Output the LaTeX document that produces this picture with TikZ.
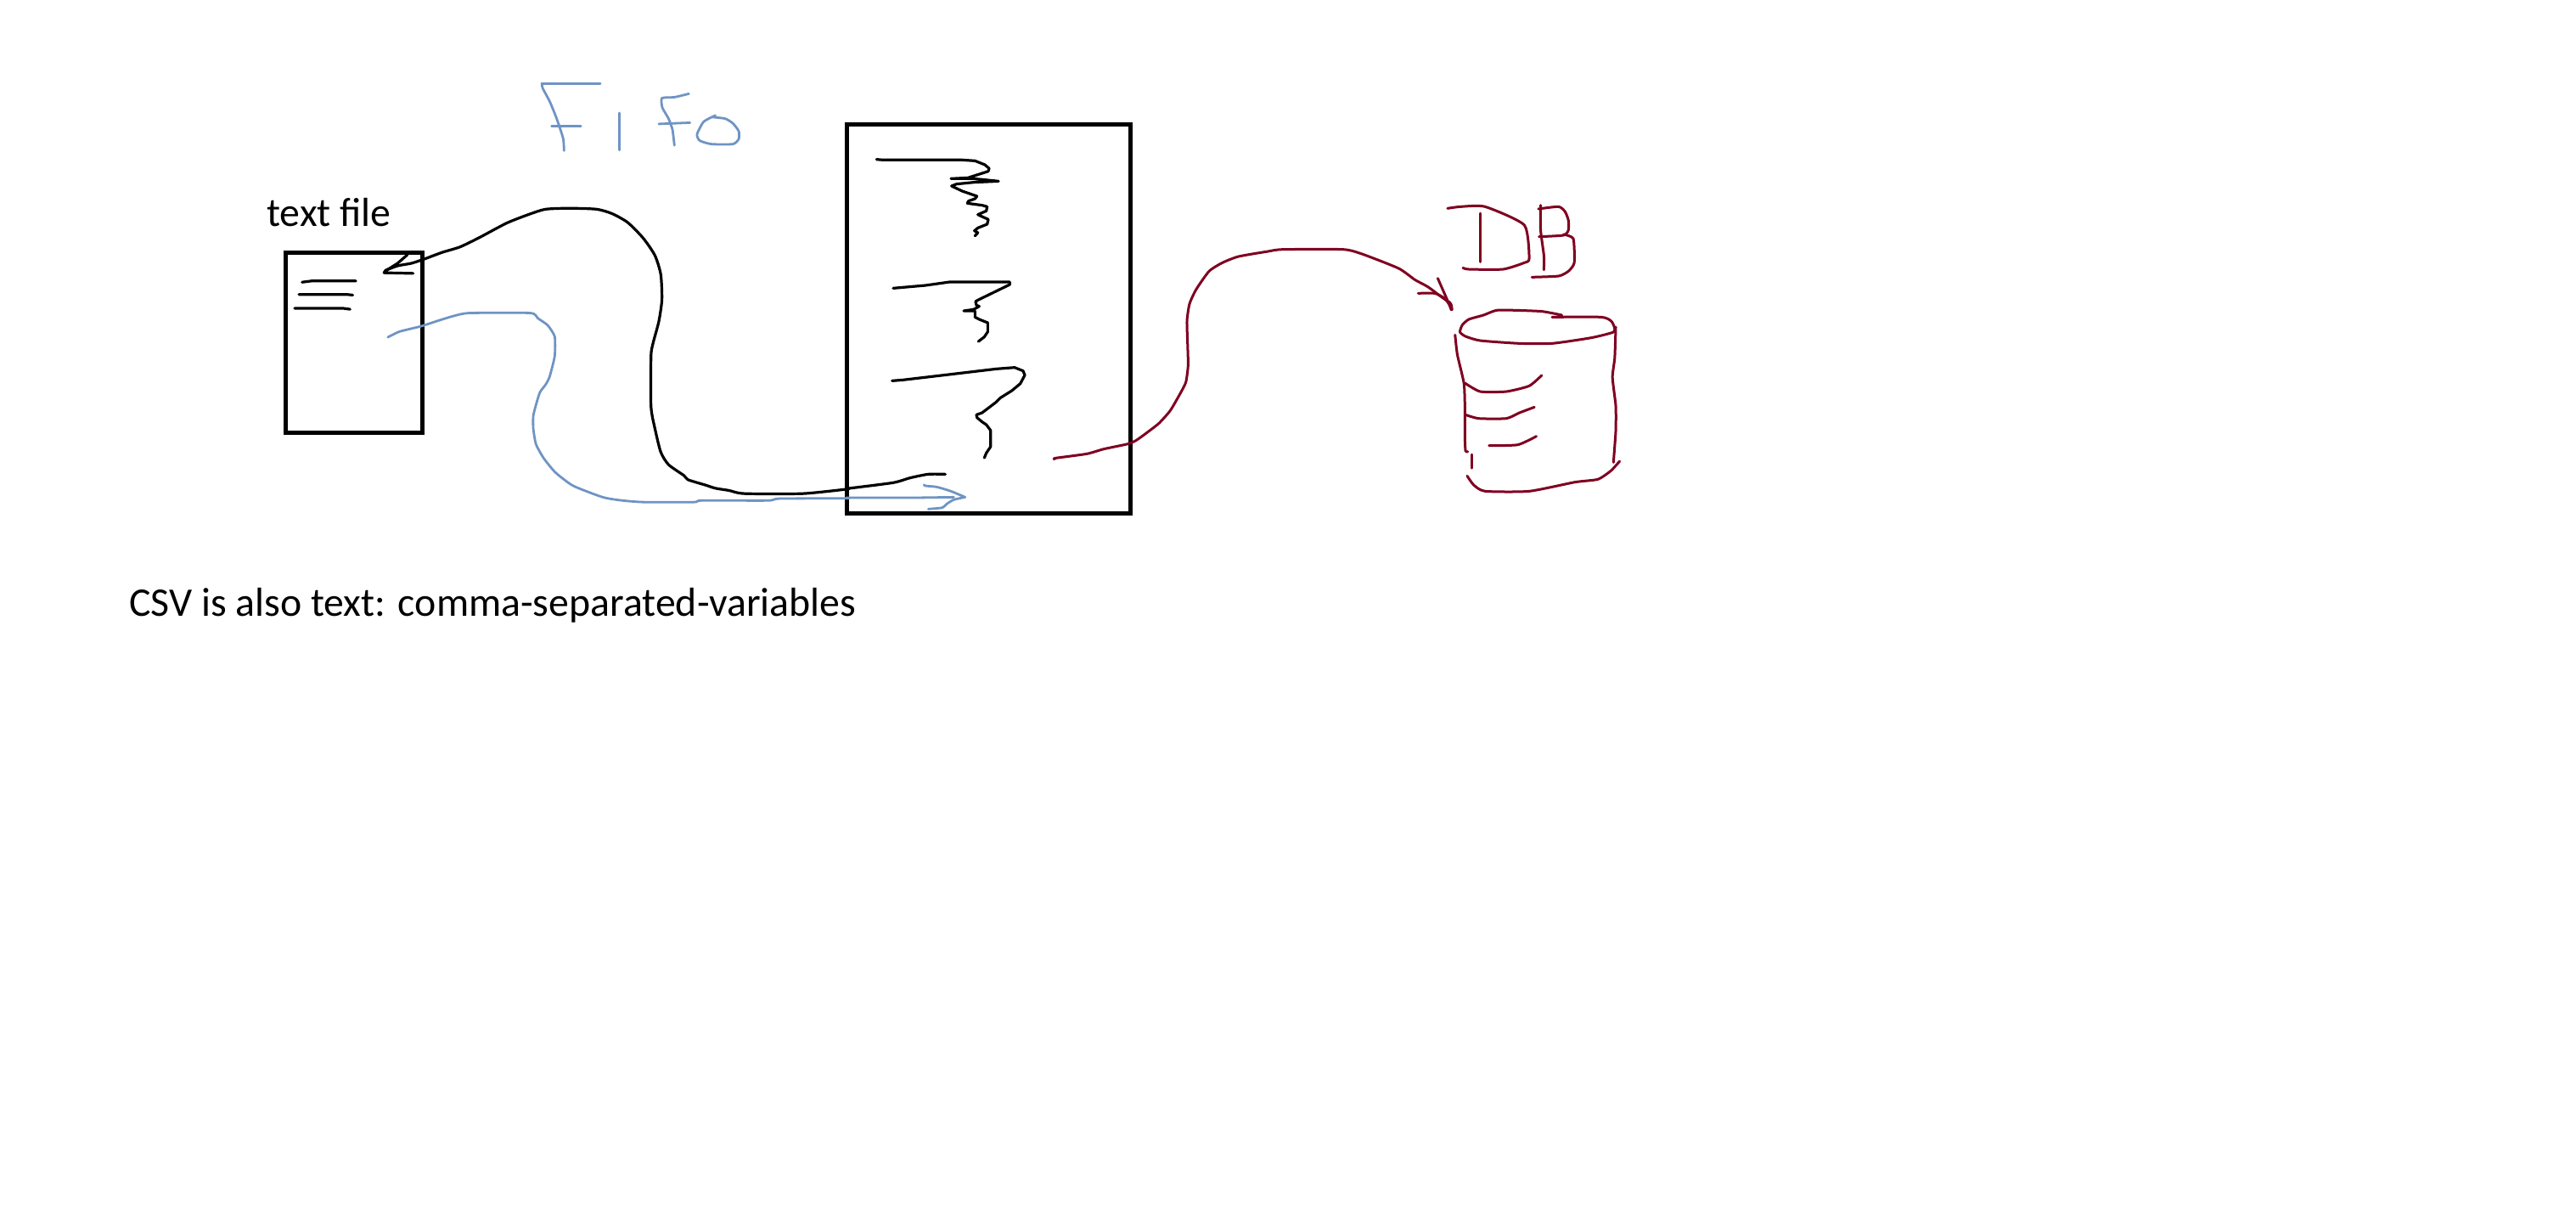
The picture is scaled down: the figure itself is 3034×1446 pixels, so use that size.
\documentclass[tikz,border=0pt]{standalone}
\usepackage{fontspec}
\setmainfont{Carlito}
\definecolor{inkblue}{HTML}{6F94C4}
\definecolor{inkred}{HTML}{7F0020}
\tikzset{
 inkblack/.style={draw=black,line width=1.6pt,line cap=round,line join=round},
 inkcurve/.style={inkblack,smooth,tension=.4},
 inkb/.style={draw=inkblue,line width=1.4pt,line cap=round,line join=round,smooth,tension=.35},
 inkr/.style={draw=inkred,line width=1.5pt,line cap=round,line join=round,smooth,tension=.35},
 boxframe/.style={draw=black,line width=2.4pt,inner sep=0pt,anchor=north west},
 lbl/.style={font=\fontsize{23.9pt}{28pt}\selectfont,inner sep=0pt,anchor=base west},
 zone one/.style={xshift=140pt,yshift=-30pt,x=.22960pt,y=-.18520pt},
 zone two/.style={xshift=480pt,yshift=-60pt,x=.16667pt,y=-.16667pt},
 zone three/.style={xshift=689pt,yshift=-110.5pt,x=.19230pt,y=-.16667pt}
}
\begin{document}
\begin{tikzpicture}[x=.5pt,y=-.5pt]
\useasboundingbox (0,0) rectangle (3034,1446);
\fill[white] (0,0) rectangle (3034,1446);
\node[boxframe,minimum width=80.5pt,minimum height=106pt] (textbox) at (334,295) {};
\node[boxframe,minimum width=167pt,minimum height=229pt] (fifobox) at (995,144) {};
\node[lbl] (textlabel) at (314,266) {text file};
\node[lbl] (csvlabel) at (152,725) {CSV is also text: comma-separated-variables};
\begin{scope}[zone one]
\draw[inkb] plot coordinates {(930,103)(780,103)};
\draw[inkb] plot coordinates {(780,103)(782,118)(800,160)(815,205)(825,240)(835,280)(837,317)};
\draw[inkb] plot coordinates {(805,239)(880,239)};
\draw[inkb] plot coordinates {(979,197)(979,315)};
\draw[inkb] plot coordinates {(1157,136)(1120,147)(1088,150)(1089,180)(1105,215)(1115,250)(1120,300)};
\draw[inkb] plot coordinates {(1080,232)(1160,228)};
\draw[inkb] plot coordinates {(1225,205)(1195,225)(1178,265)(1185,285)(1215,296)(1270,296)(1285,280)(1285,255)(1270,230)(1250,215)(1215,210)};
\draw[inkblack] plot coordinates {(435,648)(410,675)(378,700)(375,705)(450,707)};
\draw[inkcurve] plot coordinates {(378,698)(410,683)(445,675)(475,663)(525,640)(570,623)(620,593)(690,547)(750,518)(790,503)(850,500)(920,503)(960,517)(1000,545)(1040,595)(1070,650)(1085,710)(1088,790)(1080,860)(1065,930)(1060,970)(1060,1130)(1070,1200)(1085,1275)(1105,1315)(1145,1350)(1155,1363)(1200,1380)(1225,1390)(1260,1397)(1300,1407)(1450,1407)(1568,1392)};
\draw[inkblack] plot coordinates {(165,735)(190,731)(303,731)};
\draw[inkblack] plot coordinates {(157,774)(280,774)(295,776)};
\draw[inkblack] plot coordinates {(146,818)(270,818)(288,821)};
\draw[inkb] plot coordinates {(385,910)(415,892)(470,875)(520,855)(555,842)(595,833)(750,833)(770,850)(795,872)(813,908)(813,970)(800,1035)(790,1060)(775,1085)(765,1125)(758,1160)(758,1200)(765,1250)(785,1295)(815,1340)(860,1382)(935,1418)(980,1428)(1040,1434)(1170,1434)(1190,1429)(1360,1429)(1390,1423)(1568,1422)};
\end{scope}
\begin{scope}[zone two]
\draw[inkb] plot coordinates {(110,1398)(340,1398)(490,1396)};
\draw[inkb] plot coordinates {(385,1352)(390,1356)(430,1360)(480,1375)(530,1396)};
\draw[inkb] plot coordinates {(530,1396)(490,1405)(465,1420)(450,1433)(400,1438)};
\draw[inkcurve] plot coordinates {(110,1366)(275,1345)(335,1328)(400,1315)(460,1315)};
\draw[inkblack] plot coordinates {(217,203)(240,205)(520,205)(565,208)(600,222)(615,235)(612,245)(540,268)(480,271)(560,271)(648,280)(560,284)(500,290)(482,297)(520,315)(572,333)(565,342)(542,350)(538,358)(590,365)(608,370)(605,385)(575,398)(590,405)(612,415)(608,432)(575,445)(563,455)(575,462)(565,473)};
\draw[inkblack] plot coordinates {(276,658)(390,648)(475,636)(688,636)(688,645)(575,700)(567,705)(570,718)(580,722)(560,733)(525,738)(565,738)(565,760)(580,768)(610,780)(610,812)(598,830)(577,846)};
\draw[inkblack] plot coordinates {(272,985)(310,982)(480,962)(640,943)(705,938)(735,950)(741,965)(725,995)(695,1020)(655,1045)(640,1060)(590,1098)(570,1105)(572,1115)(590,1130)(605,1140)(620,1160)(620,1218)(605,1240)(598,1257)};
\draw[inkr] plot coordinates {(846,1262)(850,1258)(960,1243)(1020,1226)(1105,1208)(1135,1195)(1170,1170)(1215,1135)(1255,1090)(1290,1030)(1310,990)(1318,930)(1316,850)(1314,773)(1323,713)(1346,663)(1392,598)(1439,568)(1496,546)(1600,528)(1652,521)(1866,521)(1935,538)(2062,588)(2119,628)(2165,653)(2212,688)(2246,713)(2250,733)};
\end{scope}
\begin{scope}[zone three]
\draw[inkr] plot coordinates {(820,320)(860,425)};
\draw[inkr,line width=2pt] plot coordinates {(855,405)(862,430)};
\draw[inkr] plot coordinates {(760,373)(810,373)(840,390)(860,420)};
\draw[inkr] plot coordinates {(850,73)(890,67)(965,67)(1085,132)(1100,250)(1085,265)(1020,288)(915,288)(897,283)};
\draw[inkr] plot coordinates {(950,90)(950,262)};
\draw[inkr] plot coordinates {(1135,62)(1135,150)(1145,240)(1145,290)};
\draw[inkr] plot coordinates {(1128,75)(1190,67)(1210,85)(1220,115)(1220,150)(1205,168)(1130,173)};
\draw[inkr] plot coordinates {(1205,165)(1235,180)(1238,265)(1220,295)(1190,312)(1108,316)};
\draw[inkr] plot coordinates {(1170,457)(1320,457)(1350,470)(1360,490)(1358,510)(1290,530)(1170,550)(1070,550)(950,540)(905,525)(888,510)(895,485)(915,465)(960,450)(1000,433)(1060,433)(1140,437)(1200,450)};
\draw[inkr] plot coordinates {(873,520)(880,590)(900,690)(903,770)(903,880)(905,930)(912,932)};
\draw[inkr] plot coordinates {(1365,492)(1362,600)(1355,670)(1365,770)(1365,860)(1358,970)};
\draw[inkr] plot coordinates {(903,690)(950,720)(1030,720)(1100,700)(1138,663)};
\draw[inkr] plot coordinates {(905,802)(945,815)(1030,815)(1070,795)(1116,775)};
\draw[inkr] plot coordinates {(977,911)(1065,908)(1122,878)};
\draw[inkr] plot coordinates {(924,942)(924,990)};
\draw[inkr] plot coordinates {(910,1018)(930,1050)(965,1072)(1100,1072)(1240,1040)(1310,1030)(1350,1000)(1377,966)};
\end{scope}
\end{tikzpicture}
\end{document}
